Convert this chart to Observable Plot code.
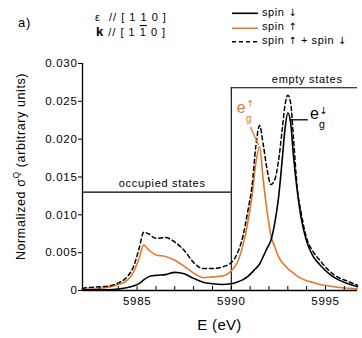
<!DOCTYPE html>
<html><head><meta charset="utf-8">
<script src="https://cdn.jsdelivr.net/npm/d3@7"></script>
<script src="https://cdn.jsdelivr.net/npm/@observablehq/plot@0.6"></script>
<style>
html,body{margin:0;padding:0;background:#fff;}
#chart svg{display:block;}
</style>
</head><body><div id="chart"></div>
<script>
// ---- data ----
const energy = [5982.1, 5983, 5983.5, 5984, 5984.5, 5984.8, 5985.1, 5985.35, 5985.6, 5986.0, 5986.5, 5987.0, 5987.5, 5988.0, 5988.5, 5989.0, 5989.5, 5990.0, 5990.3, 5990.6, 5990.9, 5991.1, 5991.3, 5991.5, 5991.7, 5991.9, 5992.1, 5992.3, 5992.5, 5992.7, 5992.85, 5993.0, 5993.15, 5993.3, 5993.5, 5993.7, 5994.0, 5994.3, 5994.7, 5995.2, 5995.7, 5996.2, 5996.7];
const spinDown = [0.0001, 0.0001, 0.0001, 0.0002, 0.0004, 0.0006, 0.0009, 0.0014, 0.0018, 0.0020, 0.0021, 0.0024, 0.0022, 0.0016, 0.0011, 0.0009, 0.0008, 0.0009, 0.0011, 0.0014, 0.0019, 0.0024, 0.0029, 0.0035, 0.0045, 0.0056, 0.0066, 0.0088, 0.0121, 0.0172, 0.0213, 0.0235, 0.0222, 0.0178, 0.0132, 0.0097, 0.0065, 0.0047, 0.0034, 0.0022, 0.0014, 0.0009, 0.0005];
const spinUp = [0.0001, 0.0003, 0.00045, 0.0008, 0.0014, 0.0024, 0.0042, 0.0060, 0.0054, 0.0047, 0.0045, 0.0040, 0.0032, 0.0023, 0.0017, 0.0018, 0.0019, 0.0026, 0.0036, 0.0058, 0.0093, 0.0125, 0.0168, 0.0190, 0.0145, 0.0105, 0.0073, 0.0058, 0.0045, 0.0037, 0.0033, 0.0029, 0.0026, 0.0023, 0.0019, 0.0016, 0.0013, 0.0011, 0.0008, 0.0006, 0.0004, 0.0003, 0.0002];
const spinSum = [0.0003, 0.0005, 0.0006, 0.0010, 0.0019, 0.0031, 0.0055, 0.0077, 0.0075, 0.0069, 0.0070, 0.0064, 0.0053, 0.0037, 0.0029, 0.0029, 0.0031, 0.0037, 0.0048, 0.0070, 0.0108, 0.0138, 0.0190, 0.0218, 0.0192, 0.0160, 0.0140, 0.0146, 0.0170, 0.0212, 0.0245, 0.0258, 0.0248, 0.0202, 0.0136, 0.0104, 0.0069, 0.0053, 0.0040, 0.0026, 0.0017, 0.0012, 0.0007];

const yTicks = [0, 0.005, 0.010, 0.015, 0.020, 0.025, 0.030];
const yTickLabels = ["0", "0.005", "0.010", "0.015", "0.020", "0.025", "0.030"];
const xTicks = [5985, 5990, 5995];
const xMinorTicks = [5983, 5984, 5985, 5986, 5987, 5988, 5989, 5990, 5991, 5992, 5993, 5994, 5995, 5996];
const xDomain = [5982.1, 5996.7];
const yDomain = [0, 0.030];

const edgeEnergy = 5990;
const occupiedLevel = 0.013;
const emptyLevel = 0.0268;
const regionLabels = [
  {text: "occupied states", x: 5986.33, y: occupiedLevel},
  {text: "empty states", x: 5994.03, y: emptyLevel}
];
const leaders = [
  {x1: 5991.02, y1: 0.0216, x2: 5991.45, y2: 0.0192, color: "up"},
  {x1: 5993.08, y1: 0.02256, x2: 5994.06, y2: 0.02256, color: "down"}
];
const peakLabels = [
  {x: 5990.31, y: 0.02335, arrow: "↑", color: "up"},
  {x: 5994.2, y: 0.02256, arrow: "↓", color: "down"}
];
const legendWords = ["spin ", "spin ", "spin "];
const legendArrows = [["↓"], ["↑"], ["↑", " + spin ", "↓"]];

const ORANGE = "#e4782a";
const BLACK = "#000";
const colorOf = c => c === "up" ? ORANGE : BLACK;
const FONT = "'Liberation Sans', Arial, Helvetica, sans-serif";
const ARROWFONT = "'DejaVu Sans', sans-serif";

const rows = energy.map((e, i) => ({e, down: spinDown[i], up: spinUp[i], sum: spinSum[i]}));

const plot = Plot.plot({
  width: 362, height: 338,
  marginLeft: 82, marginRight: 5, marginTop: 63, marginBottom: 48,
  x: {domain: xDomain},
  y: {domain: yDomain},
  style: {fontFamily: FONT, fontSize: "11.5px", color: "#000", background: "#fff", letterSpacing: "0.7px", overflow: "visible"},
  marks: [
    Plot.ruleY([occupiedLevel], {x1: xDomain[0], x2: edgeEnergy, stroke: BLACK, strokeWidth: 1.1}),
    Plot.ruleY([emptyLevel], {x1: edgeEnergy, x2: xDomain[1], stroke: BLACK, strokeWidth: 1.1}),
    Plot.ruleX([edgeEnergy], {y1: 0, y2: emptyLevel, stroke: BLACK, strokeWidth: 1.1}),
    Plot.text(regionLabels, {x: "x", y: "y", text: "text", lineAnchor: "bottom", dy: -5, fontSize: 11, letterSpacing: "0.5px"}),
    Plot.line(rows, {x: "e", y: "up", stroke: ORANGE, strokeWidth: 1.6, curve: "monotone-x"}),
    Plot.line(rows, {x: "e", y: "down", stroke: BLACK, strokeWidth: 1.6, curve: "monotone-x"}),
    Plot.line(rows, {x: "e", y: "sum", stroke: BLACK, strokeWidth: 1.5, strokeDasharray: "4,3", curve: "monotone-x"}),
    Plot.link(leaders, {x1: "x1", y1: "y1", x2: "x2", y2: "y2", stroke: d => colorOf(d.color), strokeWidth: 1.3}),
    Plot.ruleX([xDomain[0]], {y1: yDomain[0], y2: yDomain[1], stroke: BLACK, strokeWidth: 1.3}),
    Plot.ruleY([0], {x1: xDomain[0], x2: xDomain[1], stroke: BLACK, strokeWidth: 1.3}),
    Plot.axisY({ticks: yTicks, tickFormat: (d, i) => yTickLabels[i], tickSize: 4, tickPadding: 1, label: null}),
    Plot.axisX({ticks: xMinorTicks, tickSize: 4, dy: -4, tickFormat: () => "", label: null}),
    Plot.axisX({ticks: xTicks, tickSize: 0, tickPadding: 6.5, tickFormat: d => String(d), label: null})
  ]
});

const svg = d3.select(plot);
const sx = plot.scale("x"), sy = plot.scale("y");

// e_g peak labels
peakLabels.forEach(l => {
  const X = sx.apply(l.x), Y = sy.apply(l.y);
  const g = svg.append("g").attr("fill", colorOf(l.color)).attr("font-family", FONT)
    .attr("text-anchor", "start").style("letter-spacing", "0px");
  g.append("text").attr("x", X).attr("y", Y).attr("font-size", 16).text("e");
  const up = l.color === "up";
  g.append("text").attr("x", X + 9.8).attr("y", Y + (up ? -6 : -5.2))
    .attr("font-family", ARROWFONT).attr("font-size", 9.5).text(l.arrow);
  g.append("text").attr("x", X + 9.2).attr("y", Y + 9).attr("font-size", 10.5).text("g");
});

// axis titles
const yl = svg.append("text").attr("transform", "translate(24.5,166.5) rotate(-90)")
  .attr("text-anchor", "middle").attr("font-size", 12.5).attr("font-family", FONT).style("letter-spacing", "0.6px");
yl.append("tspan").text("Normalized σ");
yl.append("tspan").attr("font-size", 8.5).attr("dy", -6).text("Q");
yl.append("tspan").attr("dy", 6).text(" (arbitrary units)");

svg.append("text").attr("x", 219.5).attr("y", 330).attr("text-anchor", "middle")
  .attr("font-size", 15).attr("font-family", FONT).style("letter-spacing", "0.3px").text("E (eV)");

// header
const hdr = svg.append("g").attr("font-family", FONT).attr("text-anchor", "start");
hdr.append("text").attr("x", 18).attr("y", 27).attr("font-size", 13).text("a)");
hdr.append("text").attr("x", 95).attr("y", 21).attr("font-size", 11).style("white-space", "pre").style("letter-spacing", "1px").text("ε  // [ 1 1 0 ]");
const kt = hdr.append("text").attr("x", 96).attr("y", 36).attr("font-size", 11).style("white-space", "pre").style("letter-spacing", "1px");
kt.append("tspan").attr("font-weight", "bold").attr("font-size", 13).text("k");
kt.append("tspan").text(" // [ 1 ");
kt.append("tspan").style("text-decoration", "overline").text("1");
kt.append("tspan").text(" 0 ]");

// legend
const legStyles = [
  {stroke: BLACK, dash: null},
  {stroke: ORANGE, dash: null},
  {stroke: BLACK, dash: "4,3"}
];
const legLineY = [13.3, 28.3, 41.7];
const legTextY = [15.5, 29.8, 43.5];
legendWords.forEach((w, i) => {
  hdr.append("line").attr("x1", 232).attr("x2", 258).attr("y1", legLineY[i]).attr("y2", legLineY[i])
    .attr("stroke", legStyles[i].stroke).attr("stroke-width", 1.6).attr("stroke-dasharray", legStyles[i].dash);
  const t = hdr.append("text").attr("x", 262).attr("y", legTextY[i]).attr("font-size", 11)
    .style("white-space", "pre").style("letter-spacing", "0.6px");
  t.append("tspan").text(w);
  legendArrows[i].forEach(p => {
    const isArrow = p === "↑" || p === "↓";
    t.append("tspan").attr("font-family", isArrow ? ARROWFONT : FONT).attr("font-size", isArrow ? 10 : 11).text(p);
  });
});

document.getElementById("chart").appendChild(plot);
</script>
</body></html>
